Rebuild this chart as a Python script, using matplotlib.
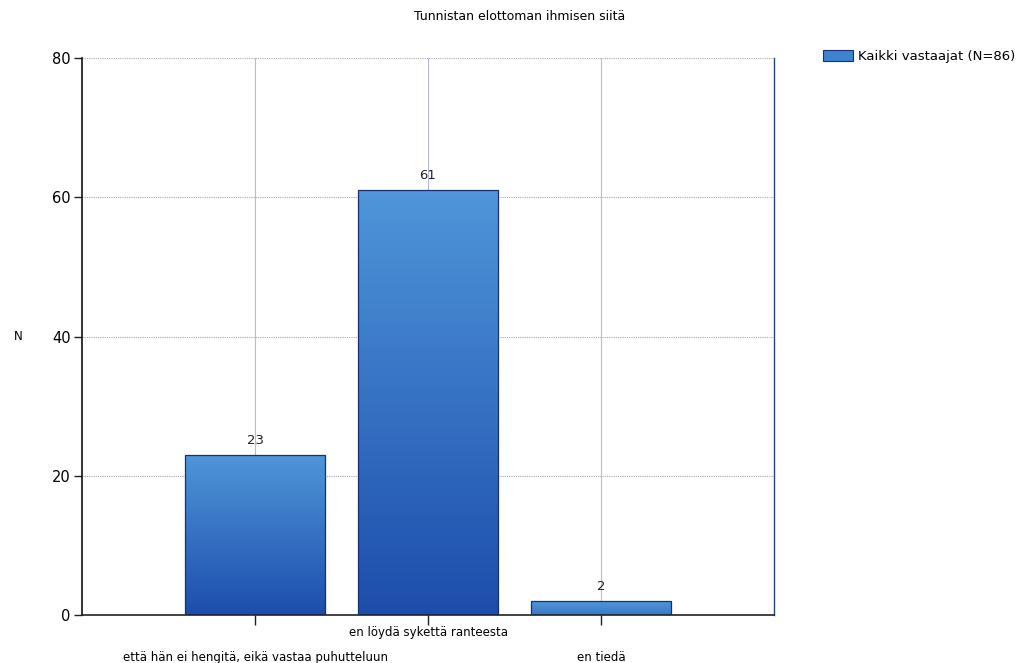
import numpy as np
import matplotlib
matplotlib.use("Agg")
import matplotlib.pyplot as plt
from matplotlib.colors import LinearSegmentedColormap, to_rgb
from matplotlib.patches import Patch

# ---- data ----
categories = ["että hän ei hengitä, eikä vastaa puhutteluun",
              "en löydä sykettä ranteesta",
              "en tiedä"]
values = [23, 61, 2]
series_name = "Kaikki vastaajat (N=86)"
title = "Tunnistan elottoman ihmisen siitä"
y_ticks = [0, 20, 40, 60, 80]
y_label = "N"

plt.rcParams['font.family'] = ['DejaVu Sans']

fig = plt.figure(figsize=(10.27, 6.63), dpi=100)
ax = fig.add_axes([0.0798, 0.0724, 0.674, 0.840])

x = np.arange(len(categories))
bars = ax.bar(x, values, width=0.81, facecolor='none', edgecolor='#1b2f6e',
              linewidth=0.9, zorder=3)

top_c = np.array(to_rgb('#4f96da'))
bot_c = np.array(to_rgb('#1d4dac'))
for b, v in zip(bars, values):
    x0, w, h = b.get_x(), b.get_width(), b.get_height()
    frac = min(1.0, h / 20.0)
    bc = top_c + (bot_c - top_c) * (0.35 + 0.65 * frac) if h < 20 else bot_c
    cmap = LinearSegmentedColormap.from_list('g', [bc, top_c])
    grad = np.linspace(0, 1, 256).reshape(-1, 1)
    im = ax.imshow(grad, extent=[x0, x0 + w, 0, h], origin='lower', cmap=cmap,
                   aspect='auto', zorder=2.5, interpolation='bilinear')
    im.set_clip_path(b)
    ax.text(x0 + w / 2, h + 1.2, str(v), ha='center', va='bottom',
            fontsize=9.5, color='#222222', zorder=4)

ax.set_xlim(-1.0, 3.0)
ax.set_ylim(0, 80)
ax.set_yticks(y_ticks)
ax.set_yticklabels([str(t) for t in y_ticks], fontsize=10.5)
ax.set_xticks(x)
ax.set_xticklabels(categories, fontsize=8.5)
pads = [19, 1, 19]
for t, p in zip(ax.xaxis.get_major_ticks(), pads):
    t.set_pad(p)

ax.tick_params(axis='y', direction='out', length=6, width=1, color='#222222', pad=2)
ax.tick_params(axis='x', direction='out', length=7, width=1, color='#222222')

# grid
for yv in [20, 40, 60, 80]:
    ax.axhline(yv, color='#a8a8a8', linestyle=(0, (1, 1)), linewidth=0.8, zorder=1)
for xv in x:
    ax.axvline(xv, color='#b8b8e6', linestyle='-', linewidth=0.8, zorder=1)

ax.spines['top'].set_visible(False)
ax.spines['left'].set_color('#111111')
ax.spines['left'].set_linewidth(1.2)
ax.spines['bottom'].set_color('#222222')
ax.spines['bottom'].set_linewidth(1.2)
ax.spines['right'].set_color('#2a3f8a')
ax.spines['right'].set_linewidth(1.0)

fig.text(520 / 1027, 1 - 16 / 663, title, ha='center', va='center', fontsize=9)
fig.text(18 / 1027, 1 - 337 / 663, y_label, ha='center', va='center', fontsize=8.5)

handle = Patch(facecolor='#3c84d0', edgecolor='#1b2f6e', linewidth=0.8)
fig.legend([handle], [series_name], loc='upper left',
           bbox_to_anchor=(0.796, 0.933), frameon=False, fontsize=9.5,
           handlelength=2.3, handleheight=0.9, handletextpad=0.4,
           borderaxespad=0)

fig.savefig('out.png', dpi=100)
